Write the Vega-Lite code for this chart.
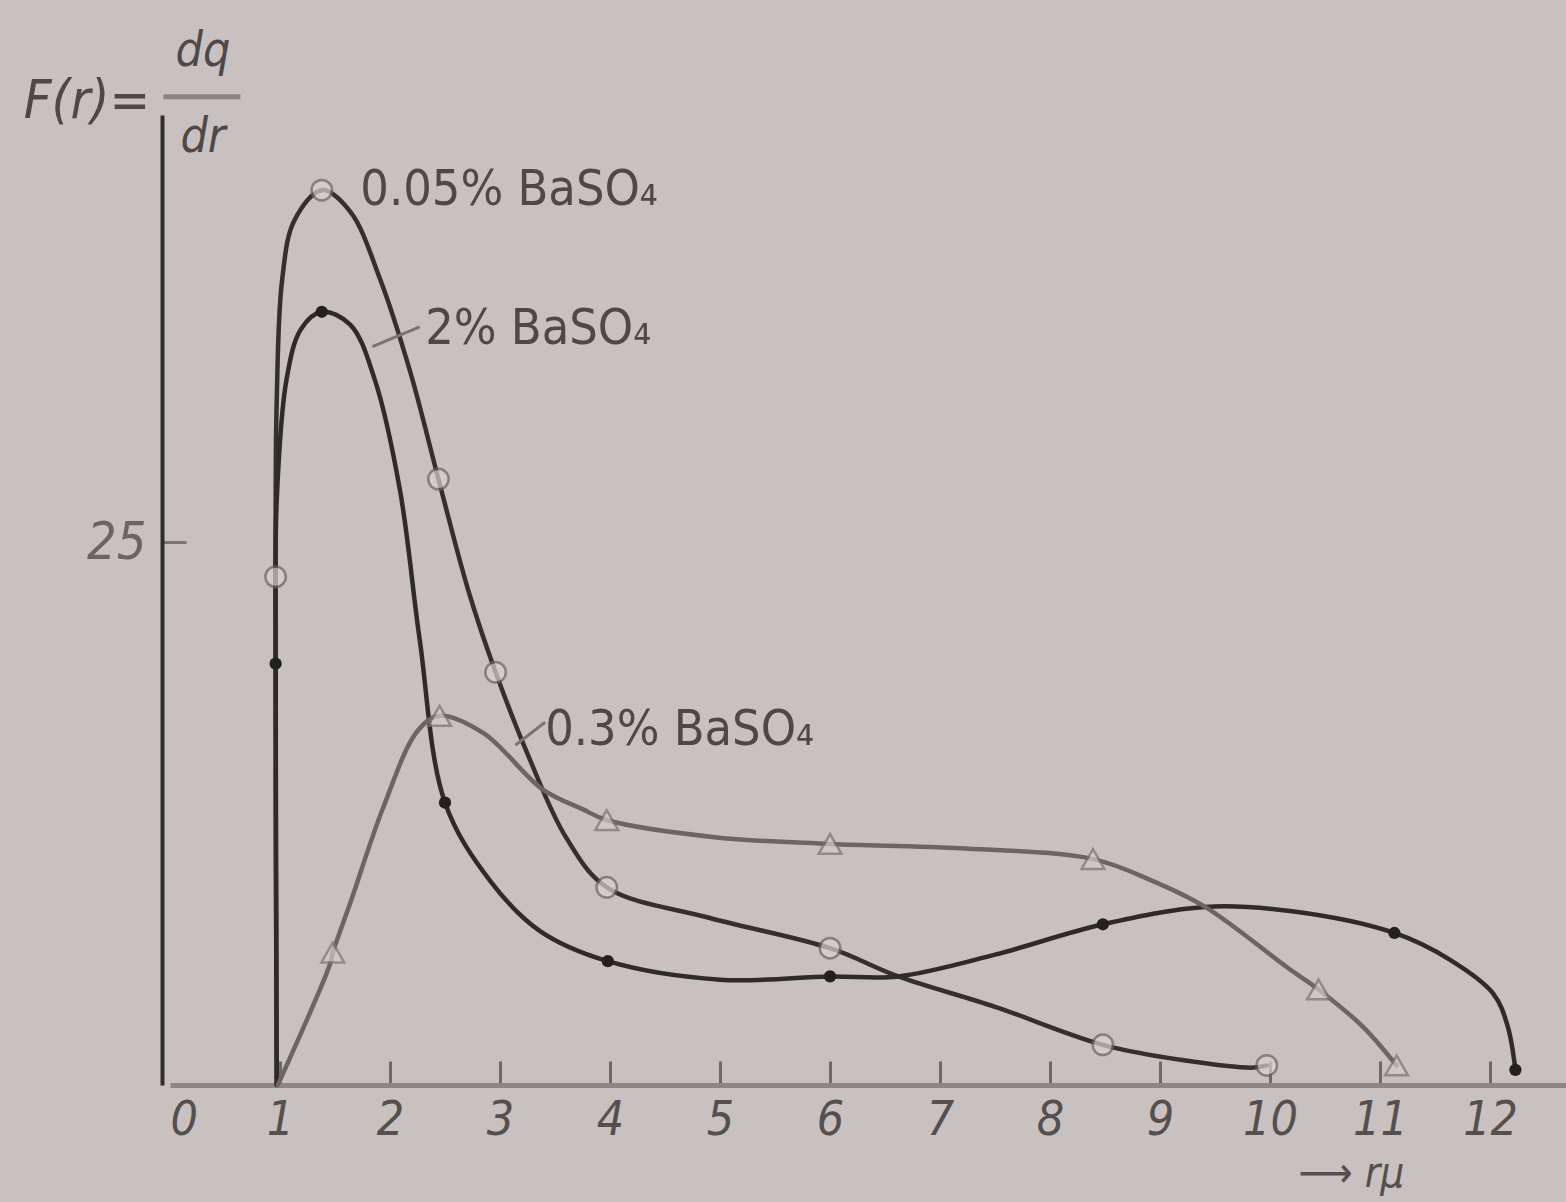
{
  "$schema": "https://vega.github.io/schema/vega-lite/v6.json",
  "width": 1396,
  "height": 970,
  "autosize": {"type": "none"},
  "padding": {"left": 170, "top": 115, "right": 0, "bottom": 117},
  "background": "#c9c1bf",
  "config": {
    "view": {"stroke": null},
    "font": "Liberation Sans Narrow, DejaVu Sans Condensed, DejaVu Sans"
  },
  "datasets": {
    "curves": [
      {"s": "0.05", "i": 1, "x": 0.97, "y": 0},
      {"s": "0.05", "i": 2, "x": 0.96, "y": 23.4},
      {"s": "0.05", "i": 3, "x": 0.97, "y": 31.5},
      {"s": "0.05", "i": 4, "x": 1.02, "y": 37.1},
      {"s": "0.05", "i": 5, "x": 1.13, "y": 39.8},
      {"s": "0.05", "i": 6, "x": 1.38, "y": 41.2},
      {"s": "0.05", "i": 7, "x": 1.64, "y": 40.2},
      {"s": "0.05", "i": 8, "x": 1.91, "y": 37.1},
      {"s": "0.05", "i": 9, "x": 2.18, "y": 32.9},
      {"s": "0.05", "i": 10, "x": 2.44, "y": 27.9},
      {"s": "0.05", "i": 11, "x": 2.71, "y": 22.8},
      {"s": "0.05", "i": 12, "x": 2.96, "y": 19.0},
      {"s": "0.05", "i": 13, "x": 3.27, "y": 15.0},
      {"s": "0.05", "i": 14, "x": 3.6, "y": 11.4},
      {"s": "0.05", "i": 15, "x": 3.97, "y": 9.1},
      {"s": "0.05", "i": 16, "x": 4.9, "y": 7.7},
      {"s": "0.05", "i": 17, "x": 6.0, "y": 6.3},
      {"s": "0.05", "i": 18, "x": 6.62, "y": 5.0},
      {"s": "0.05", "i": 19, "x": 7.5, "y": 3.6},
      {"s": "0.05", "i": 20, "x": 8.48, "y": 1.85},
      {"s": "0.05", "i": 21, "x": 9.2, "y": 1.15},
      {"s": "0.05", "i": 22, "x": 9.85, "y": 0.8},
      {"s": "0.05", "i": 23, "x": 9.97, "y": 0.9},
      {"s": "2", "i": 1, "x": 0.97, "y": 0},
      {"s": "2", "i": 2, "x": 0.96, "y": 19.4},
      {"s": "2", "i": 3, "x": 0.97, "y": 26.9},
      {"s": "2", "i": 4, "x": 1.06, "y": 32.5},
      {"s": "2", "i": 5, "x": 1.19, "y": 34.8},
      {"s": "2", "i": 6, "x": 1.38, "y": 35.6},
      {"s": "2", "i": 7, "x": 1.64, "y": 35.0},
      {"s": "2", "i": 8, "x": 1.86, "y": 32.5},
      {"s": "2", "i": 9, "x": 2.09, "y": 27.4},
      {"s": "2", "i": 10, "x": 2.27, "y": 20.5},
      {"s": "2", "i": 11, "x": 2.5, "y": 13.0},
      {"s": "2", "i": 12, "x": 2.91, "y": 9.4},
      {"s": "2", "i": 13, "x": 3.36, "y": 7.1},
      {"s": "2", "i": 14, "x": 3.98, "y": 5.7},
      {"s": "2", "i": 15, "x": 5.0, "y": 4.85},
      {"s": "2", "i": 16, "x": 6.0, "y": 5.0},
      {"s": "2", "i": 17, "x": 6.62, "y": 5.0},
      {"s": "2", "i": 18, "x": 7.5, "y": 6.0},
      {"s": "2", "i": 19, "x": 8.48, "y": 7.4},
      {"s": "2", "i": 20, "x": 9.41, "y": 8.2},
      {"s": "2", "i": 21, "x": 10.2, "y": 8.0},
      {"s": "2", "i": 22, "x": 11.13, "y": 7.0},
      {"s": "2", "i": 23, "x": 11.64, "y": 5.75},
      {"s": "2", "i": 24, "x": 12.03, "y": 4.2},
      {"s": "2", "i": 25, "x": 12.16, "y": 2.7},
      {"s": "2", "i": 26, "x": 12.23, "y": 0.7},
      {"s": "0.3", "i": 1, "x": 0.98, "y": 0},
      {"s": "0.3", "i": 2, "x": 1.45, "y": 5.5},
      {"s": "0.3", "i": 3, "x": 1.48, "y": 6.1},
      {"s": "0.3", "i": 4, "x": 1.64, "y": 8.4},
      {"s": "0.3", "i": 5, "x": 1.94, "y": 12.8},
      {"s": "0.3", "i": 6, "x": 2.25, "y": 16.3},
      {"s": "0.3", "i": 7, "x": 2.45, "y": 17.0},
      {"s": "0.3", "i": 8, "x": 2.85, "y": 16.2},
      {"s": "0.3", "i": 9, "x": 3.39, "y": 13.6},
      {"s": "0.3", "i": 10, "x": 3.75, "y": 12.7},
      {"s": "0.3", "i": 11, "x": 3.97, "y": 12.2},
      {"s": "0.3", "i": 12, "x": 4.97, "y": 11.4},
      {"s": "0.3", "i": 13, "x": 6.0, "y": 11.1},
      {"s": "0.3", "i": 14, "x": 7.18, "y": 10.9},
      {"s": "0.3", "i": 15, "x": 8.39, "y": 10.4},
      {"s": "0.3", "i": 16, "x": 8.93, "y": 9.4},
      {"s": "0.3", "i": 17, "x": 9.41, "y": 8.2},
      {"s": "0.3", "i": 18, "x": 10.16, "y": 5.4},
      {"s": "0.3", "i": 19, "x": 10.44, "y": 4.4},
      {"s": "0.3", "i": 20, "x": 10.84, "y": 2.7},
      {"s": "0.3", "i": 21, "x": 11.15, "y": 0.9}
    ],
    "markers": [
      {"s": "0.05", "x": 0.96, "y": 23.4},
      {"s": "0.05", "x": 1.38, "y": 41.2},
      {"s": "0.05", "x": 2.44, "y": 27.9},
      {"s": "0.05", "x": 2.96, "y": 19.0},
      {"s": "0.05", "x": 3.97, "y": 9.1},
      {"s": "0.05", "x": 6.0, "y": 6.3},
      {"s": "0.05", "x": 8.48, "y": 1.85},
      {"s": "0.05", "x": 9.97, "y": 0.9},
      {"s": "2", "x": 0.96, "y": 19.4},
      {"s": "2", "x": 1.38, "y": 35.6},
      {"s": "2", "x": 2.5, "y": 13.0},
      {"s": "2", "x": 3.98, "y": 5.7},
      {"s": "2", "x": 6.0, "y": 5.0},
      {"s": "2", "x": 8.48, "y": 7.4},
      {"s": "2", "x": 11.13, "y": 7.0},
      {"s": "2", "x": 12.23, "y": 0.7},
      {"s": "0.3", "x": 1.48, "y": 6.1},
      {"s": "0.3", "x": 2.45, "y": 17.0},
      {"s": "0.3", "x": 3.97, "y": 12.2},
      {"s": "0.3", "x": 6.0, "y": 11.1},
      {"s": "0.3", "x": 8.39, "y": 10.4},
      {"s": "0.3", "x": 10.44, "y": 4.4},
      {"s": "0.3", "x": 11.15, "y": 0.9}
    ],
    "labels": [
      {"t": "0.05% BaSO₄", "x": 1.73, "y": 40.5},
      {"t": "2% BaSO₄", "x": 2.32, "y": 34.1},
      {"t": "0.3% BaSO₄", "x": 3.41, "y": 15.65}
    ],
    "leaders": [
      {"x": 1.84, "y": 34.0, "x2": 2.27, "y2": 34.9},
      {"x": 3.14, "y": 15.65, "x2": 3.41, "y2": 16.7}
    ],
    "titleLeft": [
      {"t": "F(r)=", "x": -0.18, "y": 44.5}
    ],
    "titleFrac": [
      {"t": "dq", "x": 0.3, "y": 46.9},
      {"t": "dr", "x": 0.3, "y": 42.95}
    ],
    "bar": [
      {"x": -0.06, "x2": 0.64, "y": 45.5}
    ]
  },
  "layer": [
    {
      "data": {"name": "curves"},
      "mark": {"type": "line", "interpolate": "catmull-rom", "strokeCap": "round", "strokeJoin": "round"},
      "encoding": {
        "x": {
          "field": "x", "type": "quantitative",
          "scale": {"domain": [0, 12.69], "nice": false, "zero": false},
          "axis": {
            "values": [0, 1, 2, 3, 4, 5, 6, 7, 8, 9, 10, 11, 12],
            "format": "d",
            "grid": false,
            "domainColor": "#8c8686",
            "domainWidth": 5,
            "tickColor": "#6e6868",
            "tickWidth": 3,
            "tickSize": -24,
            "tickOpacity": {"condition": {"test": "datum.value === 0", "value": 0}, "value": 1},
            "labelFontSize": 48,
            "labelFontStyle": "italic",
            "labelColor": "#555050",
            "labelPadding": 35,
            "labelBaseline": "top",
            "title": "⟶ rμ",
            "titleFontSize": 42,
            "titleFontStyle": "italic",
            "titleFontWeight": "normal",
            "titleColor": "#555050",
            "titleAnchor": "start",
            "titleAlign": "left",
            "titleBaseline": "alphabetic",
            "titleX": 1128,
            "titleY": 101
          }
        },
        "y": {
          "field": "y", "type": "quantitative",
          "scale": {"domain": [0, 44.66], "nice": false},
          "axis": {
            "values": [25],
            "grid": false,
            "domainColor": "#2e2e2e",
            "domainWidth": 4,
            "tickColor": "#7a7474",
            "tickWidth": 3,
            "tickSize": -24,
            "offset": 8,
            "labelFontSize": 52,
            "labelFontStyle": "italic",
            "labelColor": "#6a6464",
            "labelPadding": 40,
            "title": null
          }
        },
        "detail": {"field": "s"},
        "order": {"field": "i", "type": "quantitative"},
        "color": {
          "field": "s", "type": "nominal", "legend": null,
          "scale": {"domain": ["0.05", "2", "0.3"], "range": ["#333030", "#2e2b2b", "#6b6565"]}
        },
        "strokeWidth": {
          "field": "s", "type": "nominal", "legend": null,
          "scale": {"domain": ["0.05", "2", "0.3"], "range": [4.5, 4.5, 5.5]}
        }
      }
    },
    {
      "data": {"name": "markers"},
      "transform": [{"filter": "datum.s === '0.05'"}],
      "mark": {"type": "point", "shape": "circle", "filled": true, "fill": "#d8d1cf", "stroke": "#6a6464", "strokeWidth": 2.5, "size": 420},
      "encoding": {
        "x": {"field": "x", "type": "quantitative"},
        "y": {"field": "y", "type": "quantitative"}
      }
    },
    {
      "data": {"name": "markers"},
      "transform": [{"filter": "datum.s === '2'"}],
      "mark": {"type": "point", "shape": "circle", "filled": true, "fill": "#222020", "size": 150, "opacity": 1},
      "encoding": {
        "x": {"field": "x", "type": "quantitative"},
        "y": {"field": "y", "type": "quantitative"}
      }
    },
    {
      "data": {"name": "markers"},
      "transform": [{"filter": "datum.s === '0.3'"}],
      "mark": {"type": "point", "shape": "triangle-up", "filled": true, "fill": "#d3ccca", "stroke": "#7a7474", "strokeWidth": 2.5, "size": 520},
      "encoding": {
        "x": {"field": "x", "type": "quantitative"},
        "y": {"field": "y", "type": "quantitative"}
      }
    },
    {
      "data": {"name": "leaders"},
      "mark": {"type": "rule", "color": "#7a7474", "strokeWidth": 3},
      "encoding": {
        "x": {"field": "x", "type": "quantitative"},
        "y": {"field": "y", "type": "quantitative"},
        "x2": {"field": "x2"},
        "y2": {"field": "y2"}
      }
    },
    {
      "data": {"name": "labels"},
      "mark": {"type": "text", "align": "left", "baseline": "alphabetic", "fontSize": 50, "color": "#4e4949"},
      "encoding": {
        "x": {"field": "x", "type": "quantitative"},
        "y": {"field": "y", "type": "quantitative"},
        "text": {"field": "t"}
      }
    },
    {
      "data": {"name": "bar"},
      "mark": {"type": "rule", "color": "#8a8484", "strokeWidth": 5},
      "encoding": {
        "x": {"field": "x", "type": "quantitative"},
        "x2": {"field": "x2"},
        "y": {"field": "y", "type": "quantitative"}
      }
    },
    {
      "data": {"name": "titleLeft"},
      "mark": {"type": "text", "align": "right", "baseline": "alphabetic", "fontSize": 54, "fontStyle": "italic", "color": "#4e4949"},
      "encoding": {
        "x": {"field": "x", "type": "quantitative"},
        "y": {"field": "y", "type": "quantitative"},
        "text": {"field": "t"}
      }
    },
    {
      "data": {"name": "titleFrac"},
      "mark": {"type": "text", "align": "center", "baseline": "alphabetic", "fontSize": 48, "fontStyle": "italic", "color": "#4e4949"},
      "encoding": {
        "x": {"field": "x", "type": "quantitative"},
        "y": {"field": "y", "type": "quantitative"},
        "text": {"field": "t"}
      }
    }
  ]
}
